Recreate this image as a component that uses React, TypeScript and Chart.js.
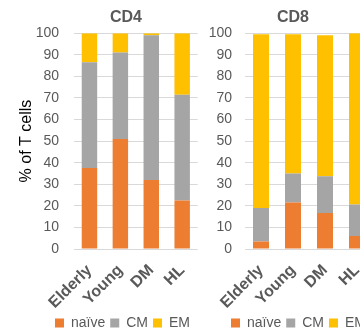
import React, { useEffect, useRef } from "react";
import { Chart, registerables } from "chart.js";

Chart.register(...registerables);

const categories = ["Elderly", "Young", "DM", "HL"];
const seriesLabels = ["naïve", "CM", "EM"];
const seriesColors = ["#ED7D31", "#A5A5A5", "#FFC000"];

const cd4Naive = [37.5, 51, 32, 22.5];
const cd4CM = [49, 40, 67, 49];
const cd4EM = [13.5, 9, 1, 28.5];

const cd8Naive = [3.5, 21.5, 16.7, 6];
const cd8CM = [15.5, 13.5, 17, 14.6];
const cd8EM = [80.5, 64.5, 65.3, 79.4];

const yMin = 0;
const yMax = 100;
const yStep = 10;

const FAMILY = "'Liberation Sans', Arial, sans-serif";
const CANVAS_H = 340;

const centerPlugin = {
  id: "centerBoxes",
  afterLayout(chart: any, _args: any, opts: any) {
    const shift = (box: any, cx: number | undefined) => {
      if (!box || cx == null) return;
      const w = box.right - box.left;
      box.left = cx - w / 2;
      box.right = cx + w / 2;
    };
    shift(chart.titleBlock, opts.titleX);
    shift(chart.legend, opts.legendX);
  },
};

type PanelProps = {
  title: string;
  series: number[][];
  left: number;
  width: number;
  axisWidth: number;
  tickPad: number;
  showYTitle: boolean;
  titleX: number;
  legendX: number;
};

function Panel(p: PanelProps) {
  const ref = useRef<HTMLCanvasElement | null>(null);
  useEffect(() => {
    if (!ref.current) return;
    const chart = new Chart(ref.current, {
      type: "bar",
      data: {
        labels: categories,
        datasets: p.series.map((d, i) => ({
          label: seriesLabels[i],
          data: d,
          backgroundColor: seriesColors[i],
          borderWidth: 0,
          barPercentage: 0.5,
          categoryPercentage: 1,
        })),
      },
      options: {
        responsive: false,
        animation: false,
        devicePixelRatio: 1,
        layout: { padding: { left: 12, right: 2, top: 0, bottom: 0 } },
        plugins: {
          title: {
            display: true,
            text: p.title,
            color: "#595959",
            font: { size: 16, weight: "bold", family: FAMILY },
            padding: { top: 8, bottom: 6 },
          },
          legend: {
            position: "bottom",
            labels: {
              boxWidth: 9,
              boxHeight: 9,
              padding: 5,
              color: "#595959",
              font: { size: 14, family: FAMILY },
            },
          },
          tooltip: { enabled: false },
          centerBoxes: { titleX: p.titleX, legendX: p.legendX },
        } as any,
        scales: {
          x: {
            stacked: true,
            grid: { display: false },
            border: { display: false },
            ticks: {
              color: "#595959",
              font: { size: 16, weight: "bold", family: FAMILY },
              maxRotation: 45,
              minRotation: 45,
              autoSkip: false,
              padding: 4,
            },
            afterFit: (s: any) => {
              s.height = 62;
            },
          },
          y: {
            stacked: true,
            min: yMin,
            max: yMax,
            ticks: {
              stepSize: yStep,
              color: "#595959",
              font: { size: 14, family: FAMILY },
              padding: p.tickPad,
            },
            grid: { color: "#d9d9d9", drawTicks: false },
            border: { display: false },
            title: {
              display: p.showYTitle,
              text: "% of T cells",
              color: "#000000",
              font: { size: 16, family: FAMILY },
              padding: { top: 5, bottom: 0 },
            },
            afterFit: (s: any) => {
              s.width = p.axisWidth;
            },
          },
        },
      } as any,
      plugins: [centerPlugin as any],
    });
    return () => chart.destroy();
  }, []);
  return (
    <canvas
      ref={ref}
      width={p.width}
      height={CANVAS_H}
      style={{ position: "absolute", left: p.left, top: 0, width: p.width, height: CANVAS_H }}
    />
  );
}

export default function App() {
  return (
    <div
      style={{
        position: "fixed",
        left: 0,
        top: 0,
        width: 360,
        height: 331,
        overflow: "hidden",
        background: "#ffffff",
      }}
    >
      <Panel
        title="CD4"
        series={[cd4Naive, cd4CM, cd4EM]}
        left={0}
        width={200}
        axisWidth={62}
        tickPad={15}
        showYTitle={true}
        titleX={126}
        legendX={122.5}
      />
      <Panel
        title="CD8"
        series={[cd8Naive, cd8CM, cd8EM]}
        left={180}
        width={195}
        axisWidth={53}
        tickPad={13}
        showYTitle={false}
        titleX={113}
        legendX={118.5}
      />
    </div>
  );
}
